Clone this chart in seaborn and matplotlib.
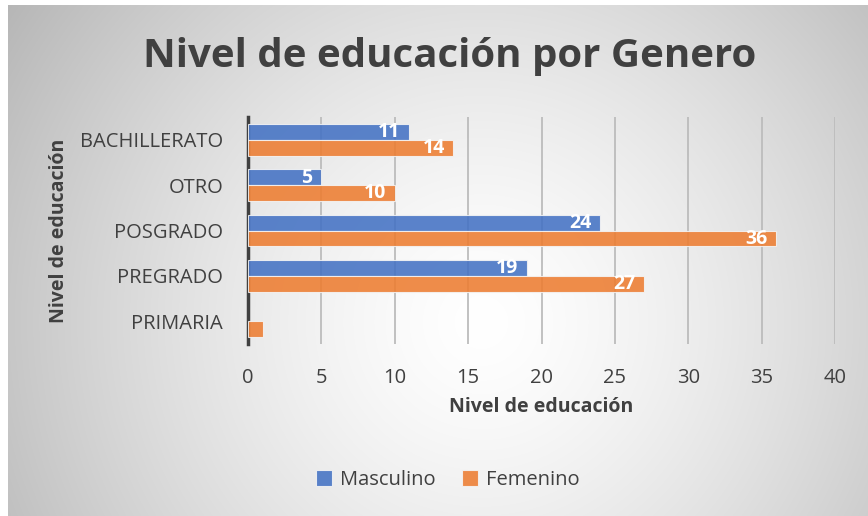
import numpy as np
import pandas as pd
import matplotlib
matplotlib.use("Agg")
import matplotlib.pyplot as plt
import seaborn as sns

categories = ["BACHILLERATO", "OTRO", "POSGRADO", "PREGRADO", "PRIMARIA"]
masculino = [11, 5, 24, 19, 0]
femenino = [14, 10, 36, 27, 1]
series_names = ["Masculino", "Femenino"]
x_ticks = [0, 5, 10, 15, 20, 25, 30, 35, 40]

df = pd.DataFrame({
    "Nivel": categories * 2,
    "Valor": masculino + femenino,
    "Genero": [series_names[0]] * len(categories) + [series_names[1]] * len(categories),
})

sns.set_theme(style="white")
plt.rcParams["font.family"] = ["Open Sans", "DejaVu Sans"]
txt = "#404040"

fig = plt.figure(figsize=(8.68, 5.16), dpi=100)
fig.patch.set_facecolor("white")

# radial gradient background
bg = fig.add_axes([8 / 868, 0, 860 / 868, 511 / 516], zorder=-10)
H, W = 511, 860
yy, xx = np.mgrid[0:H, 0:W]
cx, cy = 0.55 * W, 0.62 * H
r = np.sqrt(((xx - cx) / (0.62 * W)) ** 2 + ((yy - cy) / (0.62 * W)) ** 2)
v = 1.0 - 0.26 * np.clip(r, 0, 1.3) ** 1.4
img = np.dstack([v, v, v])
bg.imshow(img, aspect="auto", extent=[0, 1, 0, 1])
bg.set_axis_off()

ax = fig.add_axes([248 / 868, 1 - 344 / 516, (835 - 248) / 868, (344 - 117) / 516])
ax.set_facecolor("none")

sns.barplot(data=df, y="Nivel", x="Valor", hue="Genero", order=categories,
            hue_order=series_names, palette=["#4472C4", "#ED7D31"], saturation=1,
            orient="h", width=0.7, alpha=0.88, edgecolor="#f4f4f4",
            linewidth=0.8, ax=ax, zorder=3)

ax.set_xlim(0, 40)
ax.set_xticks(x_ticks)
ax.set_xticklabels([str(t) for t in x_ticks])
ax.xaxis.grid(True, color="#bcbcbc", linewidth=1.3)
ax.set_axisbelow(True)
ax.grid(axis="y", visible=False)
for s in ["top", "right", "bottom"]:
    ax.spines[s].set_visible(False)
ax.spines["left"].set_color("#404040")
ax.spines["left"].set_linewidth(2.5)
ax.tick_params(axis="x", length=0, pad=17, labelsize=14.5, labelcolor=txt)
ax.tick_params(axis="y", length=0, pad=18, labelsize=14.5, labelcolor=txt)

ax.set_xlabel("Nivel de educación", fontsize=14, fontweight="bold", color=txt, labelpad=7)
ax.set_ylabel("Nivel de educación", fontsize=14, fontweight="bold", color=txt, labelpad=8)

# data labels
for cont in ax.containers:
    for patch in cont.patches:
        val = patch.get_width()
        if val == 0:
            patch.set_visible(False)
        if val >= 2:
            ax.text(patch.get_x() + val - 0.6, patch.get_y() + patch.get_height() / 2 + 0.01,
                    f"{val:g}", ha="right", va="center", color="white",
                    fontsize=14, fontweight="bold", zorder=5)

fig.text(450 / 868, 1 - 56 / 516, "Nivel de educación por Genero", ha="center", va="center",
         fontsize=29, fontweight="bold", color=txt)

sns.move_legend(ax, "center", bbox_to_anchor=(448 / 868, 1 - 480 / 516),
                bbox_transform=fig.transFigure, ncol=2, frameon=False, title=None,
                fontsize=14.5, handlelength=0.8, handleheight=0.8, columnspacing=1.3,
                handletextpad=0.4)
for t in ax.get_legend().get_texts():
    t.set_color(txt)

fig.savefig("out.png", dpi=100)
